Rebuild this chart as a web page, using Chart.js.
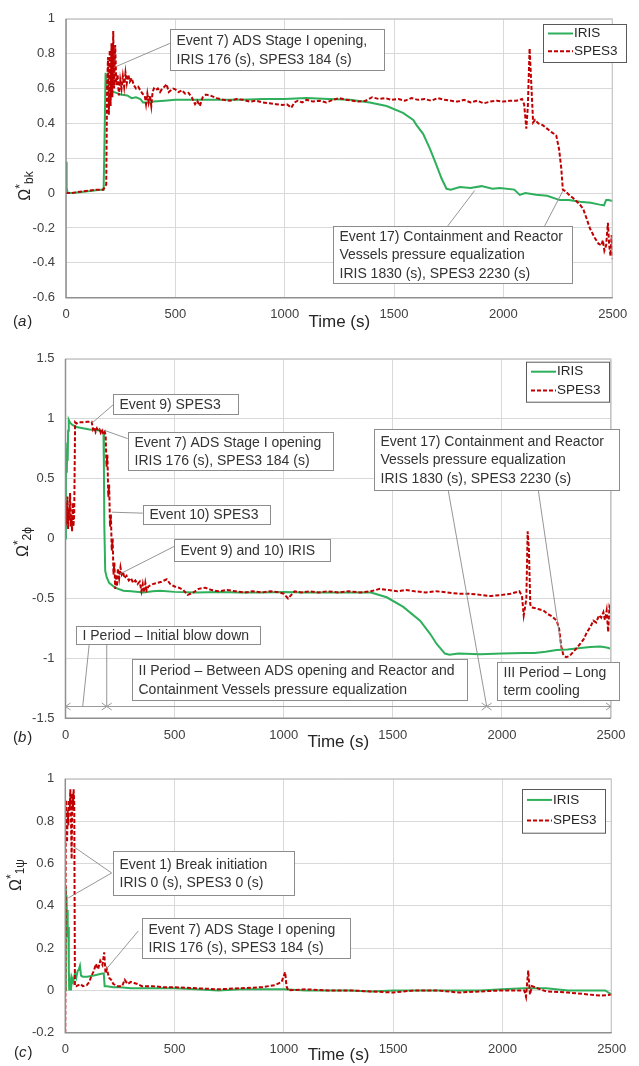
<!DOCTYPE html>
<html>
<head>
<meta charset="utf-8">
<title>Omega* IRIS vs SPES3</title>
<script src="https://cdn.jsdelivr.net/npm/chart.js@4.4.1/dist/chart.umd.min.js"></script>
<style>
  html, body { margin: 0; padding: 0; background: #fff; }
  body { position: relative; width: 639px; height: 1066px; overflow: hidden; }
  canvas { position: absolute; left: 0; }
</style>
</head>
<body>
<canvas id="chA" width="639" height="340" style="top:0"></canvas>
<canvas id="chB" width="639" height="420" style="top:340px"></canvas>
<canvas id="chC" width="639" height="306" style="top:760px"></canvas>
<script>
// ---- shared ticks / names ----
const seriesNames = ["IRIS", "SPES3"];
const timeTicks = [0, 500, 1000, 1500, 2000, 2500];
const bkTicks = [-0.6, -0.4, -0.2, 0, 0.2, 0.4, 0.6, 0.8, 1];
const twoPhTicks = [-1.5, -1, -0.5, 0, 0.5, 1, 1.5];
const onePhTicks = [-0.2, 0, 0.2, 0.4, 0.6, 0.8, 1];

// ---- (a) break ----
const aIrisT = [0, 3, 8, 30, 60, 100, 130, 160, 172, 176, 181, 186, 195, 209, 230, 250, 280, 300, 320, 340, 352, 380, 400, 450, 500, 600, 700, 800, 900, 1000, 1100, 1200, 1300, 1389, 1466, 1541, 1588, 1603, 1633, 1664, 1694, 1717, 1740, 1760, 1801, 1850, 1900, 1950, 1984, 2050, 2075, 2100, 2150, 2200, 2258, 2300, 2350, 2400, 2440, 2460, 2470, 2480, 2500];
const aIrisV = [0.18, 0.03, 0.0, 0.0, 0.005, 0.01, 0.015, 0.02, 0.02, 0.3, 0.69, 0.6, 0.6, 0.585, 0.575, 0.566, 0.56, 0.545, 0.55, 0.54, 0.52, 0.52, 0.525, 0.53, 0.535, 0.535, 0.535, 0.535, 0.54, 0.54, 0.545, 0.54, 0.535, 0.52, 0.5, 0.46, 0.42, 0.39, 0.34, 0.255, 0.16, 0.085, 0.025, 0.02, 0.035, 0.03, 0.04, 0.025, 0.03, 0.02, -0.01, 0.0, -0.01, -0.015, -0.04, -0.04, -0.05, -0.055, -0.066, -0.07, -0.04, -0.04, -0.045];
const aSpesT = [0, 20, 50, 80, 110, 140, 170, 184, 188, 192, 196, 200, 204, 208, 212, 216, 220, 225, 230, 236, 242, 248, 254, 260, 266, 272, 278, 285, 292, 300, 310, 320, 330, 340, 350, 360, 366, 372, 378, 384, 390, 396, 402, 410, 420, 430, 440, 450, 460, 470, 480, 490, 500, 515, 530, 545, 560, 575, 590, 600, 612, 625, 640, 660, 690, 720, 750, 780, 810, 840, 870, 900, 930, 960, 990, 1010, 1030, 1045, 1060, 1080, 1100, 1130, 1160, 1190, 1220, 1250, 1280, 1310, 1340, 1370, 1400, 1430, 1460, 1490, 1520, 1550, 1580, 1610, 1640, 1670, 1700, 1730, 1760, 1790, 1820, 1850, 1880, 1910, 1940, 1970, 2000, 2030, 2060, 2085, 2095, 2105, 2112, 2120, 2128, 2136, 2145, 2160, 2180, 2200, 2220, 2242, 2255, 2265, 2272, 2285, 2300, 2320, 2349, 2365, 2379, 2395, 2417, 2435, 2448, 2455, 2462, 2470, 2478, 2484, 2490, 2495, 2500];
const aSpesV = [0.0, 0.0, 0.005, 0.01, 0.015, 0.02, 0.02, 0.05, 0.6, 0.78, 0.45, 0.82, 0.5, 0.86, 0.55, 0.93, 0.6, 0.85, 0.62, 0.68, 0.56, 0.65, 0.6, 0.67, 0.61, 0.69, 0.63, 0.68, 0.64, 0.66, 0.62, 0.6, 0.61, 0.59, 0.57, 0.56, 0.51, 0.57, 0.52, 0.56, 0.5, 0.58, 0.6, 0.59, 0.6, 0.58, 0.6, 0.61, 0.625, 0.58, 0.59, 0.6, 0.595, 0.58, 0.59, 0.57, 0.575, 0.55, 0.51, 0.53, 0.5, 0.55, 0.565, 0.56, 0.545, 0.535, 0.53, 0.54, 0.535, 0.525, 0.53, 0.52, 0.515, 0.51, 0.505, 0.51, 0.49, 0.52, 0.53, 0.52, 0.535, 0.525, 0.53, 0.52, 0.535, 0.545, 0.535, 0.53, 0.525, 0.53, 0.55, 0.54, 0.545, 0.535, 0.54, 0.53, 0.545, 0.535, 0.54, 0.53, 0.545, 0.535, 0.53, 0.525, 0.535, 0.52, 0.53, 0.515, 0.525, 0.53, 0.525, 0.53, 0.53, 0.54, 0.51, 0.37, 0.5, 0.83, 0.62, 0.405, 0.42, 0.4, 0.39, 0.37, 0.35, 0.33, 0.25, 0.14, 0.02, 0.01, -0.01, -0.03, -0.065, -0.09, -0.14, -0.2, -0.255, -0.29, -0.3, -0.27, -0.33, -0.3, -0.17, -0.3, -0.36, -0.24, -0.38];

// ---- (b) two-phase ----
const bIrisT = [0, 2, 4, 6, 8, 10, 12, 15, 20, 30, 50, 80, 110, 140, 160, 170, 174, 176, 178, 182, 189, 200, 227, 265, 300, 357, 400, 433, 500, 600, 700, 800, 900, 1000, 1100, 1200, 1300, 1400, 1472, 1548, 1625, 1671, 1701, 1739, 1760, 1800, 1900, 2000, 2100, 2150, 2200, 2251, 2300, 2350, 2404, 2450, 2480, 2500];
const bIrisV = [0.0, 0.6, 0.75, 0.55, 0.8, 0.65, 0.9, 0.99, 0.97, 0.95, 0.93, 0.92, 0.91, 0.905, 0.9, 0.89, 0.88, 0.6, 0.1, -0.27, -0.325, -0.37, -0.41, -0.435, -0.44, -0.45, -0.44, -0.435, -0.445, -0.45, -0.445, -0.45, -0.45, -0.445, -0.45, -0.45, -0.45, -0.45, -0.49, -0.57, -0.685, -0.795, -0.88, -0.96, -0.97, -0.96, -0.965, -0.96, -0.955, -0.955, -0.945, -0.93, -0.925, -0.915, -0.905, -0.9, -0.91, -0.92];
const bSpesT = [0, 3, 6, 9, 12, 15, 18, 21, 24, 27, 30, 33, 36, 40, 44, 50, 60, 80, 100, 120, 126, 132, 138, 144, 150, 156, 162, 168, 174, 180, 184, 188, 192, 196, 200, 204, 208, 212, 216, 220, 224, 228, 232, 236, 240, 246, 252, 258, 264, 270, 280, 290, 300, 310, 320, 330, 340, 348, 354, 360, 366, 372, 380, 390, 400, 420, 440, 464, 480, 500, 520, 540, 560, 586, 610, 640, 670, 700, 740, 780, 820, 860, 900, 940, 980, 1000, 1020, 1035, 1050, 1080, 1120, 1160, 1200, 1250, 1300, 1350, 1400, 1441, 1480, 1520, 1560, 1600, 1650, 1700, 1750, 1800, 1850, 1900, 1950, 2000, 2040, 2080, 2092, 2100, 2106, 2112, 2118, 2124, 2130, 2136, 2150, 2170, 2190, 2210, 2230, 2251, 2262, 2272, 2282, 2295, 2310, 2325, 2340, 2358, 2375, 2390, 2405, 2419, 2432, 2445, 2455, 2465, 2472, 2480, 2487, 2493, 2500];
const bSpesV = [0.1, 0.3, 0.12, 0.35, 0.08, 0.25, 0.15, 0.38, 0.1, 0.2, 0.06, 0.3, 0.1, 0.2, 0.97, 0.96, 0.97, 0.97, 0.975, 0.975, 0.91, 0.93, 0.89, 0.92, 0.9, 0.91, 0.88, 0.9, 0.87, 0.89, 0.86, 0.6, 0.7, 0.35, 0.45, 0.1, 0.2, -0.1, 0.0, -0.3, -0.2, -0.42, -0.3, -0.4, -0.25, -0.33, -0.24, -0.3, -0.28, -0.33, -0.31, -0.35, -0.33, -0.37, -0.35, -0.38, -0.36, -0.44, -0.38, -0.45, -0.37, -0.43, -0.4, -0.39, -0.38, -0.37, -0.36, -0.34, -0.38, -0.4, -0.41, -0.43, -0.47, -0.45, -0.42, -0.41, -0.43, -0.44, -0.43, -0.44, -0.45, -0.44, -0.45, -0.44, -0.45, -0.46, -0.5, -0.47, -0.44, -0.45, -0.44, -0.45, -0.44, -0.45, -0.44, -0.45, -0.44, -0.42, -0.43, -0.44, -0.43, -0.44, -0.45, -0.44, -0.45, -0.46, -0.46, -0.47, -0.48, -0.47, -0.46, -0.44, -0.48, -0.64, -0.575, -0.5, 0.06, -0.1, -0.55, -0.575, -0.58, -0.59, -0.6, -0.63, -0.65, -0.685, -0.75, -0.9, -0.975, -0.99, -0.98, -0.95, -0.92, -0.88, -0.84, -0.78, -0.74, -0.685, -0.7, -0.64, -0.66, -0.615, -0.68, -0.6, -0.78, -0.57, -0.6];

// ---- (c) single-phase ----
const cIrisT = [0, 2, 4, 6, 8, 10, 12, 14, 16, 18, 22, 26, 30, 36, 44, 50, 56, 62, 67, 72, 80, 100, 130, 150, 170, 176, 180, 190, 220, 250, 300, 400, 500, 600, 700, 800, 900, 1000, 1100, 1200, 1300, 1400, 1500, 1600, 1700, 1800, 1900, 2000, 2100, 2200, 2300, 2400, 2470, 2485, 2500];
const cIrisV = [0.0, 0.49, 0.3, 0.45, 0.28, 0.38, 0.25, 0.3, 0.1, 0.0, 0.04, 0.0, 0.06, 0.04, 0.08, 0.06, 0.09, 0.1, 0.117, 0.07, 0.065, 0.065, 0.07, 0.075, 0.08, 0.08, 0.02, 0.02, 0.015, 0.015, 0.01, 0.01, 0.01, 0.005, 0.0, 0.005, 0.005, 0.005, 0.0, 0.0, 0.0, -0.005, 0.0, 0.0, 0.0, 0.0, 0.0, 0.005, 0.01, 0.01, 0.0, 0.0, 0.0, -0.01, -0.02];
const cSpesT = [0, 2, 5, 8, 11, 14, 17, 20, 23, 26, 29, 32, 35, 38, 41, 44, 50, 60, 70, 80, 98, 110, 120, 130, 140, 150, 160, 170, 178, 184, 190, 200, 210, 220, 240, 260, 272, 285, 300, 315, 330, 350, 400, 450, 500, 600, 700, 800, 900, 960, 990, 1000, 1006, 1012, 1020, 1100, 1200, 1300, 1400, 1500, 1600, 1700, 1800, 1900, 2000, 2100, 2108, 2118, 2126, 2135, 2200, 2300, 2400, 2450, 2500];
const cSpesV = [-0.2, 0.8, 0.9, 0.7, 0.85, 0.78, 0.9, 0.85, 0.95, 0.8, 0.62, 0.93, 0.85, 0.95, 0.88, 0.02, 0.02, 0.025, 0.03, 0.02, 0.025, 0.04, 0.07, 0.09, 0.125, 0.1, 0.14, 0.12, 0.18, 0.08, 0.1, 0.06, 0.05, 0.03, 0.02, 0.02, 0.05, 0.03, 0.04, 0.035, 0.03, 0.02, 0.02, 0.015, 0.015, 0.01, 0.005, 0.01, 0.015, 0.025, 0.04, 0.07, 0.086, 0.02, 0.0, 0.005, 0.0, 0.0, -0.005, -0.01, 0.0, 0.0, -0.01, -0.005, 0.0, 0.0, -0.03, 0.094, -0.02, 0.02, -0.005, -0.01, -0.02, -0.025, -0.02];

const FONT = '"Liberation Sans", Arial, sans-serif';
const INK = "#404040";
const GREEN = "#2EAF5B";
const RED = "#C00000";
const BOXLINE = "#8c8c8c";

function pts(t, v){ return t.map((x, i) => ({x, y: v[i]})); }

// annotations: box [x0,y0,x1,y1] and leader [t0,v0,t1,v1] in data units
const annA = [
  { box: [475, 0.943, 1453, 0.706], lines: ["Event 7) ADS Stage I opening,", "IRIS 176 (s), SPES3 184 (s)"], leaders: [[475, 0.859, 233, 0.728]] },
  { box: [1220, -0.188, 2313, -0.516], lines: ["Event 17) Containment and Reactor", "Vessels pressure equalization", "IRIS 1830 (s), SPES3 2230 (s)"],
    leaders: [[1746, -0.188, 1869, 0.015], [2189, -0.188, 2271, 0.01]] }
];
const annB = [
  { box: [216, 1.21, 791, 1.044], lines: ["Event 9) SPES3"], leaders: [[218, 1.116, 121, 0.963]] },
  { box: [285, 0.892, 1226, 0.574], lines: ["Event 7) ADS Stage I opening", "IRIS 176 (s), SPES3 184 (s)"], leaders: [[285, 0.834, 173, 0.906]] },
  { box: [354, 0.284, 934, 0.123], lines: ["Event 10) SPES3"], leaders: [[354, 0.212, 212, 0.22]] },
  { box: [497, -0.007, 1212, -0.187], lines: ["Event 9) and 10) IRIS"], leaders: [[502, -0.062, 250, -0.295]] },
  { box: [1414, 0.911, 2537, 0.402], lines: ["Event 17) Containment and Reactor", "Vessels pressure equalization", "IRIS 1830 (s), SPES3 2230 (s)"],
    leaders: [[1754, 0.402, 1930, -1.398], [2167, 0.402, 2274, -0.934]] },
  { box: [48, -0.726, 891, -0.876], lines: ["I Period \u2013 Initial blow down"], leaders: [[109, -0.876, 79, -1.398], [189, -0.876, 189, -1.398]] },
  { box: [303, -1.008, 1839, -1.354], lines: ["II Period \u2013 Between ADS opening and Reactor and", "Containment Vessels pressure equalization"], leaders: [] },
  { box: [1976, -1.031, 2534, -1.349], lines: ["III Period \u2013 Long", "term cooling"], leaders: [] }
];
const annC = [
  { box: [217, 0.66, 1043, 0.453], lines: ["Event 1) Break initiation", "IRIS 0 (s), SPES3 0 (s)"], leaders: [[212, 0.555, 37, 0.68], [212, 0.555, 14, 0.437]] },
  { box: [350, 0.344, 1303, 0.156], lines: ["Event 7) ADS Stage I opening", "IRIS 176 (s), SPES3 184 (s)"], leaders: [[334, 0.281, 189, 0.102]] }
];
// period arrows on (b): [t0, t1, v]
const arrowsB = [[0, 189, -1.398], [189, 1930, -1.398], [1930, 2500, -1.398]];

function drawYTitle(ctx, t){
  ctx.save();
  ctx.translate(t.cx, t.cy);
  ctx.rotate(-Math.PI/2);
  ctx.fillStyle = "#262626";
  ctx.textBaseline = "middle";
  ctx.textAlign = "left";
  const big = "16px " + FONT, small = "12px " + FONT;
  ctx.font = big; const w1 = ctx.measureText(t.main).width;
  ctx.font = small; const w2 = ctx.measureText(t.sup).width; const w3 = ctx.measureText(t.sub).width;
  let x0 = -(w1 + w2 + w3)/2;
  ctx.font = big; ctx.fillText(t.main, x0, 0); x0 += w1;
  ctx.font = small; ctx.fillText(t.sup, x0, -5); x0 += w2;
  ctx.fillText(t.sub, x0, 4);
  ctx.restore();
}

function drawPanelTag(ctx, p){
  ctx.save();
  ctx.fillStyle = "#262626";
  ctx.textBaseline = "middle"; ctx.textAlign = "left";
  let x0 = p.x;
  ctx.font = "15px " + FONT; ctx.fillText("(", x0, p.y); x0 += ctx.measureText("(").width;
  ctx.font = "italic 15px " + FONT; ctx.fillText(p.tag, x0, p.y); x0 += ctx.measureText(p.tag).width + 1;
  ctx.font = "15px " + FONT; ctx.fillText(")", x0, p.y);
  ctx.restore();
}

const decoPlugin = {
  id: "deco",
  afterDraw(chart, args, o){
    const {ctx, chartArea: a, scales: {x, y}} = chart;
    const X = v => x.getPixelForValue(v), Y = v => y.getPixelForValue(v);
    ctx.save();
    // frame
    ctx.lineWidth = 1; ctx.strokeStyle = "#c4c4c4";
    ctx.beginPath(); ctx.moveTo(a.left, a.top + .5); ctx.lineTo(a.right - .5, a.top + .5); ctx.lineTo(a.right - .5, a.bottom); ctx.stroke();
    ctx.lineWidth = 1.5; ctx.strokeStyle = "#8f8f8f";
    ctx.beginPath(); ctx.moveTo(a.left, a.top); ctx.lineTo(a.left, a.bottom); ctx.lineTo(a.right, a.bottom); ctx.stroke();

    // period arrows
    ctx.lineWidth = 1; ctx.strokeStyle = "#9a9a9a";
    (o.arrows || []).forEach(([t0, t1, v]) => {
      const py = Math.round(Y(v)) + .5, x0 = X(t0), x1 = X(t1);
      ctx.beginPath(); ctx.moveTo(x0, py); ctx.lineTo(x1, py); ctx.stroke();
      ctx.beginPath(); ctx.moveTo(x0 + 5, py - 3.5); ctx.lineTo(x0, py); ctx.lineTo(x0 + 5, py + 3.5); ctx.stroke();
      ctx.beginPath(); ctx.moveTo(x1 - 5, py - 3.5); ctx.lineTo(x1, py); ctx.lineTo(x1 - 5, py + 3.5); ctx.stroke();
    });

    // leaders + boxes
    (o.notes || []).forEach(n => {
      ctx.lineWidth = 0.9; ctx.strokeStyle = "#8a8a8a";
      n.leaders.forEach(([t0, v0, t1, v1]) => {
        ctx.beginPath(); ctx.moveTo(X(t0), Y(v0)); ctx.lineTo(X(t1), Y(v1)); ctx.stroke();
      });
    });
    (o.notes || []).forEach(n => {
      const bx = Math.round(X(n.box[0])) + .5, by = Math.round(Y(n.box[1])) + .5;
      const bw = Math.round(X(n.box[2]) - X(n.box[0])), bh = Math.round(Y(n.box[3]) - Y(n.box[1]));
      ctx.fillStyle = "#fff"; ctx.fillRect(bx, by, bw, bh);
      ctx.lineWidth = 1; ctx.strokeStyle = BOXLINE; ctx.strokeRect(bx, by, bw, bh);
      ctx.fillStyle = "#333"; ctx.font = "14px " + FONT;
      ctx.textBaseline = "middle"; ctx.textAlign = "left";
      const lh = 18.5, mid = by + bh/2 + 0.5;
      n.lines.forEach((s, i) => ctx.fillText(s, bx + 6, mid + (i - (n.lines.length - 1)/2) * lh));
    });

    // legend
    const L = o.legend;
    if (L){
      ctx.fillStyle = "#fff"; ctx.fillRect(L.x, L.y, L.w, L.h);
      ctx.lineWidth = 1; ctx.strokeStyle = "#595959"; ctx.strokeRect(L.x + .5, L.y + .5, L.w, L.h);
      const rows = [{c: GREEN, dash: []}, {c: RED, dash: [4, 2]}];
      ctx.font = "13.5px " + FONT; ctx.textBaseline = "middle"; ctx.textAlign = "left";
      rows.forEach((r, i) => {
        const ry = L.y + L.h * (i === 0 ? 0.25 : 0.72);
        ctx.strokeStyle = r.c; ctx.lineWidth = 2; ctx.setLineDash(r.dash);
        ctx.beginPath(); ctx.moveTo(L.x + 5, ry); ctx.lineTo(L.x + 30, ry); ctx.stroke();
        ctx.setLineDash([]);
        ctx.fillStyle = "#262626"; ctx.fillText(seriesNames[i], L.x + 31, ry);
      });
    }
    ctx.restore();
    if (o.ytitle) drawYTitle(ctx, o.ytitle);
    if (o.tag) drawPanelTag(ctx, o.tag);
  }
};

function makeChart(id, c){
  const el = document.getElementById(id);
  const ctx = el.getContext("2d");
  return new Chart(ctx, {
    type: "line",
    data: { datasets: [
      { label: seriesNames[1], data: pts(c.spesT, c.spesV), borderColor: RED, borderWidth: 2, borderDash: [4, 2], pointRadius: 0, tension: 0, order: 0 },
      { label: seriesNames[0], data: pts(c.irisT, c.irisV), borderColor: GREEN, borderWidth: 2, pointRadius: 0, tension: 0, order: 1 }
    ]},
    options: {
      responsive: false, animation: false, events: [],
      layout: { padding: c.pad },
      plugins: { legend: { display: false }, tooltip: { enabled: false }, deco: c.deco },
      scales: {
        x: {
          type: "linear", min: 0, max: 2500,
          afterBuildTicks: s => { s.ticks = timeTicks.map(v => ({value: v})); },
          afterFit: s => { s.height = c.xH; },
          grid: { color: "#d9d9d9", lineWidth: 1, drawTicks: false },
          border: { display: false },
          ticks: { padding: 9, color: INK, font: { family: FONT, size: 13 }, maxRotation: 0, callback: v => String(v) },
          title: { display: true, text: "Time (s)", color: "#262626", font: { family: FONT, size: 17 }, padding: { top: 0, bottom: c.titlePad } }
        },
        y: {
          type: "linear", min: c.yTicks[0], max: c.yTicks[c.yTicks.length - 1],
          afterBuildTicks: s => { s.ticks = c.yTicks.map(v => ({value: v})); },
          afterFit: s => { s.width = c.yW; },
          grid: { color: "#d9d9d9", lineWidth: 1, drawTicks: false },
          border: { display: false },
          ticks: { padding: 11, color: INK, font: { family: FONT, size: 13 }, callback: v => String(v) }
        }
      }
    },
    plugins: [decoPlugin]
  });
}

makeChart("chA", {
  irisT: aIrisT, irisV: aIrisV, spesT: aSpesT, spesV: aSpesV, yTicks: bkTicks,
  pad: { top: 15, right: 26.3, bottom: 6.3, left: 0 }, xH: 36, yW: 66, titlePad: 1.5,
  deco: { notes: annA, legend: { x: 543, y: 24, w: 83, h: 38 },
          ytitle: { cx: 26, cy: 186, main: "\u03A9", sup: "*", sub: "bk" }, tag: { x: 13, y: 322, tag: "a" } }
});
makeChart("chB", {
  irisT: bIrisT, irisV: bIrisV, spesT: bSpesT, spesV: bSpesV, yTicks: twoPhTicks,
  pad: { top: 16.7, right: 28, bottom: 5.7, left: 0 }, xH: 36, yW: 65.5, titlePad: 2.1,
  deco: { notes: annB, arrows: arrowsB, legend: { x: 526, y: 21.7, w: 83, h: 40 },
          ytitle: { cx: 24, cy: 202, main: "\u03A9", sup: "*", sub: "2\u03D5" }, tag: { x: 13, y: 398, tag: "b" } }
});
makeChart("chC", {
  irisT: cIrisT, irisV: cIrisV, spesT: cSpesT, spesV: cSpesV, yTicks: onePhTicks,
  pad: { top: 16.7, right: 27.3, bottom: 0.3, left: 0 }, xH: 33, yW: 65.3, titlePad: 0.5,
  deco: { notes: annC, legend: { x: 522, y: 29, w: 83, h: 43.7 },
          ytitle: { cx: 17, cy: 115, main: "\u03A9", sup: "*", sub: "1\u03C8" }, tag: { x: 14, y: 293, tag: "c" } }
});
</script>
</body>
</html>
